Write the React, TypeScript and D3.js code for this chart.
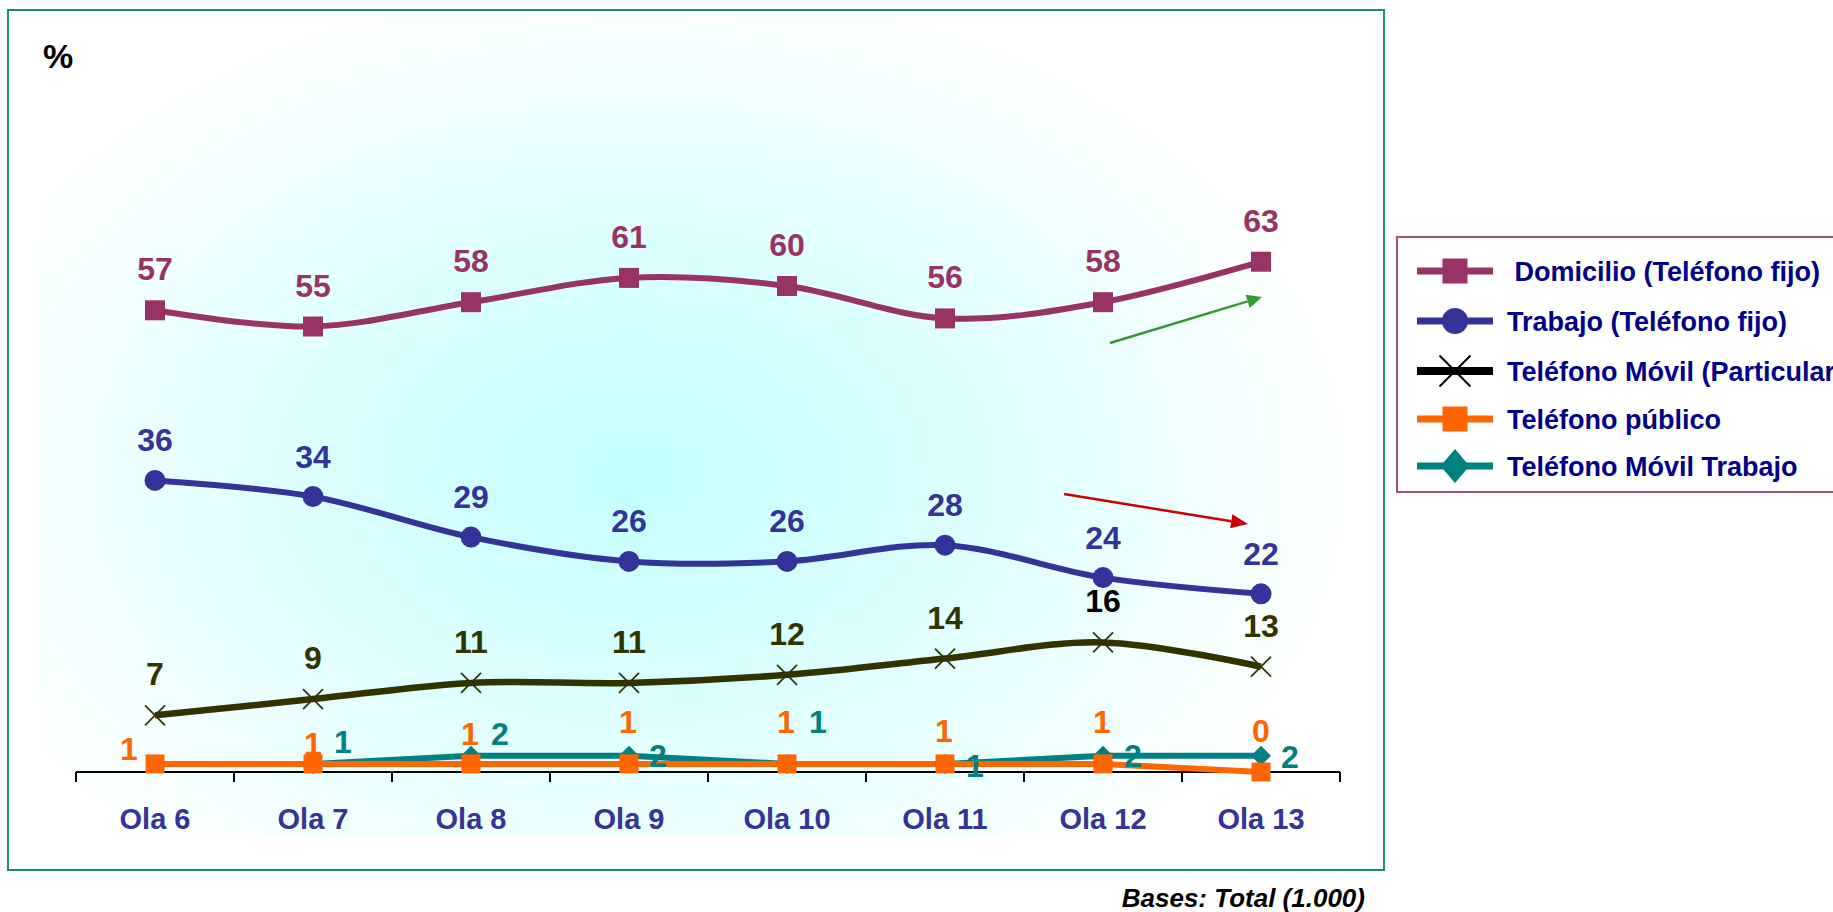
import React from 'react';
import * as d3 from 'd3';

const categories = ['Ola 6', 'Ola 7', 'Ola 8', 'Ola 9', 'Ola 10', 'Ola 11', 'Ola 12', 'Ola 13'];
const domicilio = [57, 55, 58, 61, 60, 56, 58, 63];
const trabajo = [36, 34, 29, 26, 26, 28, 24, 22];
const movilParticular = [7, 9, 11, 11, 12, 14, 16, 13];
const publico = [1, 1, 1, 1, 1, 1, 1, 0];
const movilTrabajo: (number | null)[] = [null, 1, 2, 2, 1, 1, 2, 2];

const seriesNames = [
  ' Domicilio (Teléfono fijo)',
  'Trabajo (Teléfono fijo)',
  'Teléfono Móvil (Particular)',
  'Teléfono público',
  'Teléfono Móvil Trabajo',
];

// label placement tweaks for the crowded low series (pixels)
const publicoLabelDx = [-26, 0, -1, -1, -1, -1, -1, 0];
const publicoLabelDy = [-4, -9, -19, -31, -31, -22, -31, -30];
const movilTrabajoLabelDx = [0, 30, 29, 29, 31, 30, 30, 29];
const movilTrabajoLabelDy = [0, -11, -11, 11, -31, 13, 11, 12];

const W = 1833;
const H = 912;
const FONT = '"Liberation Sans", Arial, Helvetica, sans-serif';

const C_DOM = '#993366';
const C_TRA = '#333399';
const C_MOV = '#333300';
const C_PUB = '#FF6600';
const C_MTR = '#008080';

export default function App() {
  const x = d3.scaleBand<string>().domain(categories).range([76, 1340]);
  const cx = (c: string) => (x(c) as number) + x.bandwidth() / 2;
  const y = d3.scaleLinear().domain([0, 80]).range([772, 124]);

  const smooth = d3
    .line<number | null>()
    .defined((d) => d !== null)
    .x((_, i) => cx(categories[i]))
    .y((d) => y(d as number))
    .curve(d3.curveCardinal.tension(0));
  const straight = d3
    .line<number | null>()
    .defined((d) => d !== null)
    .x((_, i) => cx(categories[i]))
    .y((d) => y(d as number));

  const ticks = d3.range(categories.length + 1).map((i) => 76 + i * x.bandwidth());

  const square = (px: number, py: number, s: number, color: string, key: string) => (
    <rect key={key} x={px - s / 2} y={py - s / 2} width={s} height={s} fill={color} />
  );
  const circle = (px: number, py: number, r: number, color: string, key: string) => (
    <ellipse key={key} cx={px} cy={py} rx={r} ry={r} fill={color} />
  );
  const cross = (px: number, py: number, s: number, color: string, sw: number, key: string) => (
    <g key={key} stroke={color} strokeWidth={sw}>
      <line x1={px - s / 2} y1={py - s / 2} x2={px + s / 2} y2={py + s / 2} />
      <line x1={px - s / 2} y1={py + s / 2} x2={px + s / 2} y2={py - s / 2} />
    </g>
  );
  const diamond = (px: number, py: number, w: number, h: number, color: string, key: string) => (
    <polygon
      key={key}
      points={`${px},${py - h / 2} ${px + w / 2},${py} ${px},${py + h / 2} ${px - w / 2},${py}`}
      fill={color}
    />
  );

  const arrow = (x1: number, y1: number, x2: number, y2: number, color: string, len: number, wid: number) => {
    const a = Math.atan2(y2 - y1, x2 - x1);
    const bx = x2 - len * Math.cos(a);
    const by = y2 - len * Math.sin(a);
    const px = -Math.sin(a) * (wid / 2);
    const py = Math.cos(a) * (wid / 2);
    return (
      <g>
        <line x1={x1} y1={y1} x2={bx} y2={by} stroke={color} strokeWidth={2.5} />
        <polygon points={`${x2},${y2} ${bx + px},${by + py} ${bx - px},${by - py}`} fill={color} />
      </g>
    );
  };

  const labelStyle = { fontFamily: FONT, fontWeight: 700, fontSize: 32 } as const;

  const legendY = [271, 321, 371, 419, 466];

  return (
    <svg
      width={W}
      height={H}
      style={{ position: 'absolute', left: 0, top: 0, background: '#fff' }}
      xmlns="http://www.w3.org/2000/svg"
    >
      <defs>
        <radialGradient id="bg" cx="0.44" cy="0.56" r="0.62" fx="0.44" fy="0.56" gradientTransform="translate(0.06,0) scale(0.88,1)">
          <stop offset="0" stopColor="#C4FFFF" />
          <stop offset="0.35" stopColor="#D6FFFF" />
          <stop offset="1" stopColor="#FFFFFF" />
        </radialGradient>
      </defs>
      <rect x={0} y={0} width={W} height={H} fill="#fff" />
      {/* outer frame */}
      <rect x={8} y={10} width={1376} height={860} fill="#fff" stroke="#1E8C6E" strokeWidth={2} />
      {/* plot area gradient */}
      <rect x={40} y={20} width={1330} height={815} fill="url(#bg)" />

      <text x={43} y={68} style={{ fontFamily: FONT, fontWeight: 700, fontSize: 34 }} fill="#000">
        %
      </text>

      {/* x axis */}
      <line x1={76} x2={1340} y1={772} y2={772} stroke="#000" strokeWidth={2} />
      {ticks.map((t, i) => (
        <line key={'t' + i} x1={t} x2={t} y1={772} y2={782} stroke="#000" strokeWidth={2} />
      ))}
      {categories.map((c) => (
        <text
          key={'c' + c}
          x={cx(c)}
          y={829}
          textAnchor="middle"
          style={{ fontFamily: FONT, fontWeight: 700, fontSize: 29 }}
          fill={C_TRA}
        >
          {c}
        </text>
      ))}

      {/* arrows */}
      {arrow(1110, 343, 1262, 297, '#339933', 15, 14)}
      {arrow(1064, 494, 1248, 524, '#CC0000', 17, 14)}

      {/* lines */}
      <path d={smooth(domicilio) as string} fill="none" stroke={C_DOM} strokeWidth={6} />
      <path d={smooth(trabajo) as string} fill="none" stroke={C_TRA} strokeWidth={6} />
      <path d={smooth(movilParticular) as string} fill="none" stroke={C_MOV} strokeWidth={6.5} />
      <path d={straight(movilTrabajo) as string} fill="none" stroke={C_MTR} strokeWidth={6} />
      <path d={straight(publico) as string} fill="none" stroke={C_PUB} strokeWidth={6} />

      {/* markers */}
      {domicilio.map((v, i) => square(cx(categories[i]), y(v), 20, C_DOM, 'dm' + i))}
      {trabajo.map((v, i) => circle(cx(categories[i]), y(v), 10.5, C_TRA, 'tm' + i))}
      {movilParticular.map((v, i) => cross(cx(categories[i]), y(v), 20, C_MOV, 1.8, 'mm' + i))}
      {movilTrabajo.map((v, i) =>
        v === null ? null : diamond(cx(categories[i]), y(v), 20, 20, C_MTR, 'wm' + i)
      )}
      {publico.map((v, i) => square(cx(categories[i]), y(v), 19, C_PUB, 'pm' + i))}

      {/* labels */}
      {domicilio.map((v, i) => (
        <text key={'dl' + i} x={cx(categories[i])} y={y(v) - 30} textAnchor="middle" style={labelStyle} fill={C_DOM}>
          {v}
        </text>
      ))}
      {trabajo.map((v, i) => (
        <text key={'tl' + i} x={cx(categories[i])} y={y(v) - 29} textAnchor="middle" style={labelStyle} fill={C_TRA}>
          {v}
        </text>
      ))}
      {movilParticular.map((v, i) => (
        <text
          key={'ml' + i}
          x={cx(categories[i])}
          y={y(v) - 30}
          textAnchor="middle"
          style={labelStyle}
          fill={v === 16 ? '#000' : C_MOV}
        >
          {v}
        </text>
      ))}
      {publico.map((v, i) => (
        <text
          key={'pl' + i}
          x={cx(categories[i]) + publicoLabelDx[i]}
          y={y(v) + publicoLabelDy[i]}
          textAnchor="middle"
          style={labelStyle}
          fill={C_PUB}
        >
          {v}
        </text>
      ))}
      {movilTrabajo.map((v, i) =>
        v === null ? null : (
          <text
            key={'wl' + i}
            x={cx(categories[i]) + movilTrabajoLabelDx[i]}
            y={y(v) + movilTrabajoLabelDy[i]}
            textAnchor="middle"
            style={labelStyle}
            fill={C_MTR}
          >
            {v}
          </text>
        )
      )}

      {/* legend */}
      <rect x={1397} y={237} width={460} height={255} fill="#fff" stroke="#A0507A" strokeWidth={2} />
      {legendY.map((ly, i) => {
        const colors = [C_DOM, C_TRA, '#000', C_PUB, C_MTR];
        const col = colors[i];
        const mx = 1455;
        let marker;
        if (i === 0 || i === 3) marker = square(mx, ly, 25, col, 'lm' + i);
        else if (i === 1) marker = circle(mx, ly, 13, col, 'lm' + i);
        else if (i === 2) marker = cross(mx, ly, 31, '#000', 2, 'lm' + i);
        else marker = diamond(mx, ly, 29, 34, col, 'lm' + i);
        return (
          <g key={'lg' + i}>
            <line x1={1417} x2={1493} y1={ly} y2={ly} stroke={col} strokeWidth={i === 2 ? 8 : 7} />
            {marker}
            <text
              x={1507}
              y={ly + 10}
              style={{ fontFamily: FONT, fontWeight: 700, fontSize: 27, whiteSpace: 'pre' }}
              fill="#000088"
            >
              {seriesNames[i]}
            </text>
          </g>
        );
      })}

      <text
        x={1365}
        y={907}
        textAnchor="end"
        style={{ fontFamily: FONT, fontWeight: 700, fontStyle: 'italic', fontSize: 26 }}
        fill="#000"
      >
        Bases: Total (1.000)
      </text>
    </svg>
  );
}
